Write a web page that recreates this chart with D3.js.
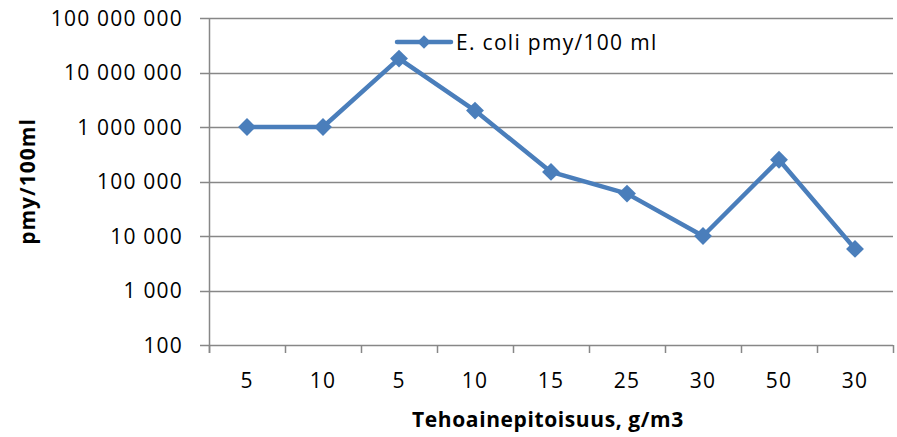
<!DOCTYPE html>
<html>
<head>
<meta charset="utf-8">
<script src="https://cdn.jsdelivr.net/npm/d3@7"></script>
<style>
  body { margin: 0; background: #fff; }
  svg { display: block; font-family: "Open Sans", sans-serif; }
</style>
</head>
<body>
<svg id="mount" width="897" height="437"></svg>
<script>
var categories = ["5", "10", "5", "10", "15", "25", "30", "50", "30"];
var values = [1000000, 1000000, 18000000, 2000000, 150000, 60000, 10000, 250000, 5800];
var yTicks = [100, 1000, 10000, 100000, 1000000, 10000000, 100000000];
var seriesName = "E. coli pmy/100 ml";
var xTitle = "Tehoainepitoisuus, g/m3";
var yTitle = "pmy/100ml";

var lineColor = "#4A7EBB";
var gridColor = "#878787";

var svg = d3.select("#mount");
var margin = { top: 18, right: 4, bottom: 92, left: 209 };
var width = 897 - margin.left - margin.right;
var height = 437 - margin.top - margin.bottom;

var g = svg.append("g")
  .attr("transform", "translate(" + margin.left + "," + margin.top + ")");

var idx = categories.map(function(d, i) { return i; });

var x = d3.scaleBand()
  .domain(idx)
  .range([0, width])
  .padding(0);

var y = d3.scaleLog()
  .domain([100, 100000000])
  .range([height, 0]);

function fmt(v) {
  return d3.format(",")(v).replace(/,/g, " ");
}

// gridlines with outward ticks
g.append("g")
  .selectAll("line")
  .data(yTicks)
  .join("line")
  .attr("x1", -9)
  .attr("x2", width)
  .attr("y1", function(d) { return Math.round(y(d)) + 0.5; })
  .attr("y2", function(d) { return Math.round(y(d)) + 0.5; })
  .attr("stroke", gridColor)
  .attr("stroke-width", 1.5);

// y labels
g.append("g")
  .selectAll("text")
  .data(yTicks)
  .join("text")
  .attr("x", -26)
  .attr("y", function(d) { return y(d); })
  .attr("dy", "0.36em")
  .attr("text-anchor", "end")
  .style("font-size", "21px")
  .style("letter-spacing", "1.2px")
  .attr("fill", "#000")
  .text(fmt);

// vertical axis line
g.append("line")
  .attr("x1", 0.5).attr("x2", 0.5)
  .attr("y1", 0).attr("y2", height + 8)
  .attr("stroke", gridColor)
  .attr("stroke-width", 1.5);

// x ticks at category boundaries
var bounds = idx.map(function(i) { return x(i); }).concat([width]);
g.append("g")
  .selectAll("line")
  .data(bounds)
  .join("line")
  .attr("x1", function(d) { return Math.round(d) + 0.5; })
  .attr("x2", function(d) { return Math.round(d) + 0.5; })
  .attr("y1", height)
  .attr("y2", height + 8)
  .attr("stroke", gridColor)
  .attr("stroke-width", 1.5);

// x labels
g.append("g")
  .selectAll("text")
  .data(idx)
  .join("text")
  .attr("x", function(i) { return x(i) + x.bandwidth() / 2; })
  .attr("y", height + 35)
  .attr("dy", "0.36em")
  .attr("text-anchor", "middle")
  .style("font-size", "21px")
  .style("letter-spacing", "1.2px")
  .attr("fill", "#000")
  .text(function(i) { return categories[i]; });

// axis titles
svg.append("text")
  .attr("x", margin.left + width / 2 - 3)
  .attr("y", 427)
  .attr("text-anchor", "middle")
  .style("font-size", "21px")
  .style("font-weight", "bold")
  .style("letter-spacing", "0.6px")
  .attr("fill", "#000")
  .text(xTitle);

svg.append("text")
  .attr("transform", "translate(35," + (margin.top + height / 2) + ") rotate(-90)")
  .attr("text-anchor", "middle")
  .style("font-size", "21px")
  .style("font-weight", "bold")
  .style("letter-spacing", "1px")
  .attr("fill", "#000")
  .text(yTitle);

// series line
var line = d3.line()
  .x(function(d, i) { return x(i) + x.bandwidth() / 2; })
  .y(function(d) { return y(d); });

g.append("path")
  .datum(values)
  .attr("fill", "none")
  .attr("stroke", lineColor)
  .attr("stroke-width", 4.5)
  .attr("stroke-linejoin", "round")
  .attr("d", line);

g.append("g")
  .selectAll("path")
  .data(values)
  .join("path")
  .attr("transform", function(d, i) {
    return "translate(" + (x(i) + x.bandwidth() / 2) + "," + y(d) + ") rotate(45)";
  })
  .attr("d", d3.symbol().type(d3.symbolSquare).size(160))
  .attr("fill", lineColor);

// legend
var leg = svg.append("g").attr("transform", "translate(397,42)");
leg.append("line")
  .attr("x1", 0).attr("x2", 54)
  .attr("y1", 0).attr("y2", 0)
  .attr("stroke", lineColor)
  .attr("stroke-width", 4.5)
  .attr("stroke-linecap", "round");
leg.append("path")
  .attr("transform", "translate(27,0) rotate(45)")
  .attr("d", d3.symbol().type(d3.symbolSquare).size(90))
  .attr("fill", lineColor);
leg.append("text")
  .attr("x", 59)
  .attr("y", 0)
  .attr("dy", "0.36em")
  .style("font-size", "21px")
  .style("letter-spacing", "1.3px")
  .attr("fill", "#000")
  .text(seriesName);
</script>
</body>
</html>
